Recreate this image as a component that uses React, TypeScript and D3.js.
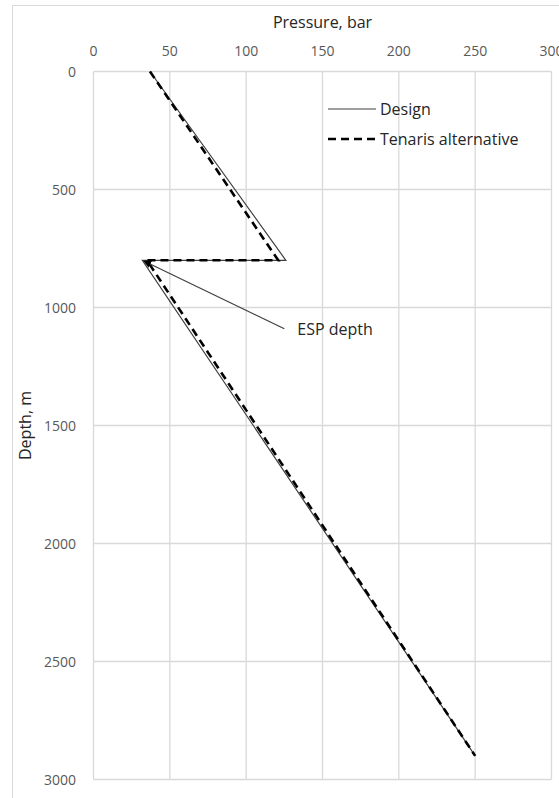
import React, { useRef, useEffect } from 'react';
import * as d3 from 'd3';

// depth (m) and pressure (bar) along each profile
const depths = [0, 800, 800, 2900];
const designPressure = [37, 126, 32, 250];
const tenarisPressure = [37, 121, 35, 250];

const xTicks = [0, 50, 100, 150, 200, 250, 300];
const yTicks = [0, 500, 1000, 1500, 2000, 2500, 3000];

const seriesNames = ['Design', 'Tenaris alternative'];

// annotation: arrow from label back to the ESP depth point
const espLabel = 'ESP depth';
const espArrowTip = [33, 803];
const espArrowTail = [125, 1090];

const FONT = '"Open Sans", "Liberation Sans", sans-serif';

function PressureChart({ width = 559, height = 798 }) {
  const svgRef = useRef<SVGSVGElement>(null);

  useEffect(() => {
    const svg = d3.select(svgRef.current);
    svg.selectAll('*').remove();

    const margin = { top: 71.5, right: 7.5, bottom: 18.5, left: 93.5 };

    const x = d3.scaleLinear().domain([0, 300]).range([margin.left, width - margin.right]);
    const y = d3.scaleLinear().domain([0, 3000]).range([margin.top, height - margin.bottom]);

    svg.attr('width', width).attr('height', height);

    // outer chart frame
    svg.append('rect')
      .attr('x', 12.5).attr('y', 5.5)
      .attr('width', width).attr('height', height)
      .attr('fill', 'none').attr('stroke', '#d9d9d9');

    // gridlines
    const grid = svg.append('g');
    grid.selectAll('.vg').data(xTicks).enter().append('line')
      .attr('x1', d => x(d)).attr('x2', d => x(d))
      .attr('y1', y(0)).attr('y2', y(3000))
      .attr('stroke', '#d9d9d9').attr('stroke-width', 1.3);
    grid.selectAll('.hg').data(yTicks).enter().append('line')
      .attr('y1', d => y(d)).attr('y2', d => y(d))
      .attr('x1', x(0)).attr('x2', x(300))
      .attr('stroke', '#d9d9d9').attr('stroke-width', 1.3);

    // tick labels
    svg.append('g').selectAll('text').data(xTicks).enter().append('text')
      .attr('x', d => x(d)).attr('y', 50)
      .attr('text-anchor', 'middle').attr('dominant-baseline', 'central')
      .attr('font-family', FONT).attr('font-size', 14).attr('fill', '#595959')
      .text(d => d);
    svg.append('g').selectAll('text').data(yTicks).enter().append('text')
      .attr('x', 76).attr('y', d => y(d))
      .attr('text-anchor', 'end').attr('dominant-baseline', 'central')
      .attr('font-family', FONT).attr('font-size', 14).attr('fill', '#595959')
      .text(d => d);

    // axis titles
    svg.append('text')
      .attr('x', (x(0) + x(300)) / 2).attr('y', 22)
      .attr('text-anchor', 'middle').attr('dominant-baseline', 'central')
      .attr('font-family', FONT).attr('font-size', 16).attr('fill', '#262626')
      .text('Pressure, bar');
    svg.append('text')
      .attr('transform', `translate(25,${(y(0) + y(3000)) / 2}) rotate(-90)`)
      .attr('text-anchor', 'middle').attr('dominant-baseline', 'central')
      .attr('font-family', FONT).attr('font-size', 16).attr('fill', '#262626')
      .text('Depth, m');

    const line = d3.line<number>()
      .x(d => x(d))
      .y((d, i) => y(depths[i]));

    // Design: thin solid
    svg.append('path')
      .attr('d', line(designPressure))
      .attr('fill', 'none').attr('stroke', '#404040').attr('stroke-width', 1.2);

    // Tenaris alternative: thick dashed
    svg.append('path')
      .attr('d', line(tenarisPressure))
      .attr('fill', 'none').attr('stroke', '#000').attr('stroke-width', 2.6)
      .attr('stroke-dasharray', '8,5');

    // ESP depth annotation
    svg.append('defs').append('marker')
      .attr('id', 'arrow')
      .attr('viewBox', '0 0 10 10').attr('refX', 9).attr('refY', 5)
      .attr('markerWidth', 8).attr('markerHeight', 8)
      .attr('markerUnits', 'userSpaceOnUse')
      .attr('orient', 'auto')
      .append('path').attr('d', 'M0,0L10,5L0,10Z').attr('fill', '#000');

    svg.append('line')
      .attr('x1', x(espArrowTail[0])).attr('y1', y(espArrowTail[1]))
      .attr('x2', x(espArrowTip[0])).attr('y2', y(espArrowTip[1]))
      .attr('stroke', '#404040').attr('stroke-width', 1.2)
      .attr('marker-end', 'url(#arrow)');

    svg.append('text')
      .attr('x', x(espArrowTail[0]) + 13).attr('y', y(espArrowTail[1]))
      .attr('dominant-baseline', 'central')
      .attr('font-family', FONT).attr('font-size', 16).attr('fill', '#262626')
      .text(espLabel);

    // legend
    const legend = svg.append('g').attr('transform', 'translate(328,109)');
    seriesNames.forEach((name, i) => {
      const row = legend.append('g').attr('transform', `translate(0,${i * 30})`);
      row.append('line')
        .attr('x1', 0).attr('x2', 48)
        .attr('stroke', i === 0 ? '#404040' : '#000')
        .attr('stroke-width', i === 0 ? 1.2 : 2.6)
        .attr('stroke-dasharray', i === 0 ? null : '8,5');
      row.append('text')
        .attr('x', 52).attr('y', 0)
        .attr('dominant-baseline', 'central')
        .attr('font-family', FONT).attr('font-size', 16).attr('fill', '#262626')
        .text(name);
    });
  }, [width, height]);

  return <svg ref={svgRef} style={{ display: 'block', position: 'absolute', left: 0, top: 0, background: '#fff' }} />;
}

export default function App() {
  return <PressureChart />;
}
